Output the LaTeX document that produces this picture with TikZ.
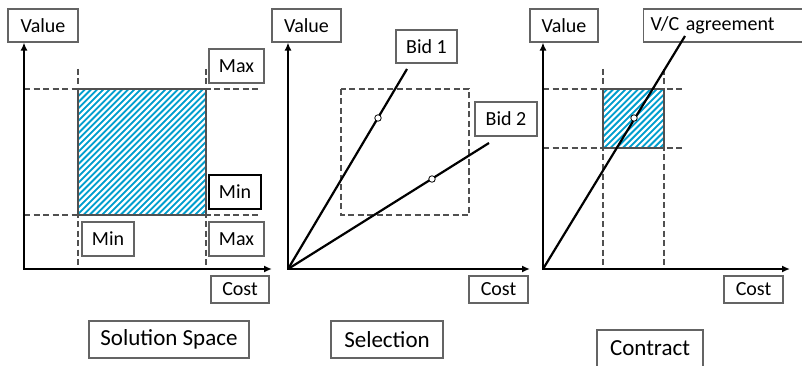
\documentclass[tikz,border=0pt]{standalone}
\usepackage{fontspec}
\setmainfont{Carlito}
\usetikzlibrary{arrows.meta}
\definecolor{hatchblue}{RGB}{0,158,206}
\definecolor{boxgray}{RGB}{100,100,100}
\definecolor{dashgray}{RGB}{80,80,80}
\begin{document}
\begin{tikzpicture}[x=1pt,y=-1pt,
  lbl/.style={draw=boxgray, line width=1.1pt, inner sep=0pt, font=\fontsize{20}{24}\selectfont, text=black},
  capbox/.style={lbl, font=\fontsize{23}{27}\selectfont},
  axis/.style={line width=2.2pt, {Latex[length=8pt,width=7pt]}-{Latex[length=8pt,width=7pt]}},
  guide/.style={draw=dashgray, line width=1.2pt, dash pattern=on 6pt off 3.5pt},
  bidline/.style={line width=2.2pt, black},
  dot/.style={circle, draw=black, fill=white, line width=0.8pt, minimum size=6.5pt, inner sep=0pt},
  hatchline/.style={white, line width=2.2pt},
  rectborder/.style={draw=dashgray, line width=1.1pt}]
\clip (0,0) rectangle (802,366);
\fill[white] (0,0) rectangle (802,366);

% ---------------- Panel 1: Solution Space ----------------
\begin{scope}
  \clip (78,89) rectangle (206,215);
  \fill[hatchblue] (78,89) rectangle (206,215);
  \foreach \k in {0,...,45} \draw[hatchline] ({78-130+\k*6.2},217) -- ++(135,-135);
\end{scope}
\draw[rectborder] (78,89) rectangle (206,215);
\draw[guide] (78,69) -- (78,269);
\draw[guide] (206,69) -- (206,269);
\draw[guide] (24,89) -- (260,89);
\draw[guide] (24,215) -- (260,215);

\node[lbl, minimum width=70pt, minimum height=33pt] (val1) at (43,25.5) {Value};
\node[lbl, minimum width=55pt, minimum height=34pt] (max1t) at (236.5,66) {Max};
\node[lbl, draw=black, minimum width=52pt, minimum height=34pt] (min1r) at (235,192) {Min};
\node[lbl, minimum width=52pt, minimum height=34pt] (min1b) at (108,239) {Min};
\node[lbl, minimum width=55pt, minimum height=34pt] (max1b) at (236.5,239) {Max};
\node[lbl, minimum width=58pt, minimum height=27pt] (cost1) at (240,289.5) {Cost};
\node[capbox, minimum width=160pt, minimum height=37pt] (sol) at (169,339.5) {Solution Space};

\coordinate (o1) at (24,269);
\coordinate (x1end) at (272,269);
\draw[axis] (o1 |- val1.south) -- (o1) -- (x1end);

% ---------------- Panel 2: Selection ----------------
\draw[guide] (341,89) rectangle (469,215);

\node[lbl, minimum width=69pt, minimum height=33pt] (val2) at (306.5,25.5) {Value};
\node[lbl, minimum width=61pt, minimum height=33pt] (bid1) at (426.5,46.5) {Bid 1};
\node[lbl, minimum width=62pt, minimum height=34pt] (bid2) at (506,119) {Bid 2};
\node[lbl, minimum width=59pt, minimum height=27pt] (cost2) at (498.5,289.5) {Cost};
\node[capbox, minimum width=112pt, minimum height=37pt] (sel) at (387,339.5) {Selection};

\coordinate (o2) at (288,269);
\coordinate (x2end) at (530,269);
\draw[axis] (o2 |- val2.south) -- (o2) -- (x2end);

\coordinate (b1end) at (407,69);
\coordinate (b2end) at (489,143);
\draw[bidline] (o2) -- (b1end);
\draw[bidline] (o2) -- (b2end);
\node[dot] (p1) at (378,118) {};
\node[dot] (p2) at (432,179) {};

% ---------------- Panel 3: Contract ----------------
\begin{scope}
  \clip (603,89) rectangle (664,148);
  \fill[hatchblue] (603,89) rectangle (664,148);
  \foreach \k in {0,...,26} \draw[hatchline] ({603-66+\k*6.2},150) -- ++(70,-70);
\end{scope}
\draw[rectborder] (603,89) rectangle (664,148);
\draw[guide] (603,69) -- (603,269);
\draw[guide] (664,69) -- (664,269);
\draw[guide] (543,89) -- (683,89);
\draw[guide] (543,148) -- (683,148);

\node[lbl, minimum width=68pt, minimum height=33pt] (val3) at (564,25.5) {Value};
\node[lbl, anchor=west, minimum height=33pt, text width=152pt, inner xsep=7pt, align=left] (vc) at (643,25.5) {V/C agreement};
\node[lbl, minimum width=59pt, minimum height=27pt] (cost3) at (753.5,289.5) {Cost};
\node[capbox, minimum width=106pt, minimum height=37pt] (contract) at (650,348.5) {Contract};

\coordinate (o3) at (543,269);
\coordinate (x3end) at (790,269);
\draw[axis] (o3 |- val3.south) -- (o3) -- (x3end);

\coordinate (vcend) at (685,36);
\draw[bidline] (o3) -- (vcend);
\node[dot] (p3) at (634,118) {};
\end{tikzpicture}
\end{document}
